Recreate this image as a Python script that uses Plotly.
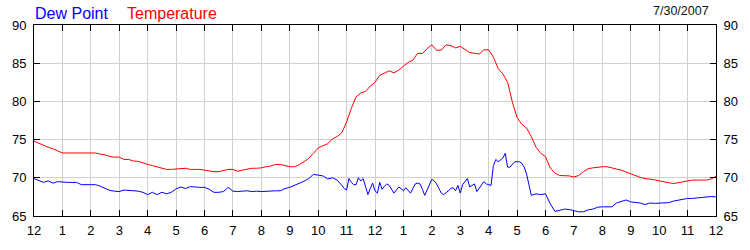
import plotly.graph_objects as go

# Temperature: 10-minute readings for 7/30/2007, 12 AM to 12 AM next day
temperature = [
    74.8, 74.5, 74.2, 74.0, 73.8, 73.5, 73.25, 73.25, 73.25, 73.25,
    73.25, 73.25, 73.25, 73.25, 73.1, 73.0, 72.8, 72.7, 72.7, 72.4,
    72.4, 72.2, 72.15, 71.9, 71.75, 71.6, 71.45, 71.2, 71.1, 71.1,
    71.15, 71.2, 71.25, 71.1, 71.1, 71.1, 71.0, 70.85, 70.8, 70.8,
    70.9, 71.1, 71.1, 70.85, 71.0, 71.15, 71.25, 71.25, 71.3, 71.45,
    71.55, 71.75, 71.75, 71.6, 71.45, 71.45, 71.7, 72.1, 72.55, 73.2,
    73.9, 74.2, 74.45, 75.1, 75.4, 75.9, 77.3, 79.1, 80.6, 81.1,
    81.3, 82.0, 82.5, 83.4, 83.75, 84.0, 83.75, 84.1, 84.6, 85.1,
    85.4, 86.3, 86.25, 86.9, 87.4, 86.7, 86.7, 87.4, 87.3, 87.0,
    87.2, 86.8, 86.4, 86.3, 86.2, 86.75, 86.75, 85.8, 84.3, 83.6,
    82.5, 79.9, 77.9, 77.0, 76.5, 75.4, 74.0, 73.2, 72.75, 71.3,
    70.6, 70.3, 70.3, 70.25, 70.1, 70.3, 70.8, 71.2, 71.3, 71.4,
    71.45, 71.45, 71.25, 71.15, 71.0, 70.75, 70.5, 70.25, 70.05, 69.9,
    69.85, 69.75, 69.6, 69.45, 69.3, 69.25, 69.35, 69.45, 69.55, 69.7,
    69.7, 69.7, 69.7, 69.85, 70.2,
]
temperature_minutes = list(range(0, 1441, 10))

# Dew point: 10-minute readings, 5-minute readings during the noisy afternoon
dew_point_early = [  # 0:00 - 10:30, every 10 min
    69.9, 69.7, 69.4, 69.6, 69.3, 69.5, 69.4, 69.4, 69.4, 69.4,
    69.1, 69.1, 69.1, 69.1, 68.9, 68.6, 68.35, 68.25, 68.2, 68.4,
    68.35, 68.3, 68.25, 68.1, 67.8, 68.1, 67.8, 68.1, 67.9, 68.1,
    68.55, 68.8, 68.6, 68.85, 68.75, 68.75, 68.75, 68.5, 68.1, 68.1,
    68.2, 68.75, 68.25, 68.2, 68.25, 68.3, 68.2, 68.25, 68.2, 68.25,
    68.3, 68.3, 68.3, 68.6, 68.75, 69.0, 69.3, 69.55, 69.9, 70.45,
    70.35, 70.25, 69.85, 70.0,
]
dew_point_midday = [  # 10:40 - 17:30, every 5 min
    69.7, 69.4, 69.0, 68.6, 68.4, 69.9, 69.4, 69.1, 69.1, 70.0,
    69.6, 69.9, 68.8, 67.8, 68.6, 69.3, 68.3, 68.0, 69.4, 68.5,
    68.9, 69.2, 69.0, 68.5, 68.0, 68.4, 68.8, 68.6, 68.3, 68.7,
    68.3, 68.0, 68.6, 69.2, 69.3, 69.2, 68.5, 67.7, 68.4, 69.2,
    69.8, 69.6, 69.2, 68.6, 68.0, 67.8, 68.0, 68.3, 68.6, 68.7,
    68.3, 69.0, 68.0, 69.1, 69.5, 69.9, 68.8, 69.0, 69.2, 68.2,
    68.6, 69.1, 69.5, 69.2, 69.1, 69.0, 71.6, 72.4, 72.1, 72.3,
    72.6, 73.2, 71.4, 71.4, 71.7, 72.1, 72.1, 72.1, 71.9, 71.4,
    70.5, 69.2, 67.7,
]
dew_point_late = [  # 17:40 - 24:00, every 10 min
    67.9, 67.8, 67.9, 66.6, 65.6, 65.8, 65.9, 65.85, 65.65, 65.55,
    65.55, 65.8, 65.9, 66.15, 66.2, 66.2, 66.2, 66.7, 66.95, 67.1,
    66.85, 66.8, 66.7, 66.5, 66.7, 66.65, 66.7, 66.75, 66.75, 66.95,
    67.1, 67.2, 67.3, 67.3, 67.35, 67.4, 67.45, 67.55, 67.5,
]
dew_minutes = (list(range(0, 640, 10)) + list(range(640, 1051, 5))
               + list(range(1060, 1441, 10)))
dew_point = dew_point_early + dew_point_midday + dew_point_late
assert len(dew_point) == len(dew_minutes), (len(dew_point), len(dew_minutes))
assert len(temperature) == len(temperature_minutes)

hour_labels = ["12", "1", "2", "3", "4", "5", "6", "7", "8", "9", "10", "11",
               "12", "1", "2", "3", "4", "5", "6", "7", "8", "9", "10", "11", "12"]
y_ticks = [65, 70, 75, 80, 85, 90]
date_text = "7/30/2007"

FONT = "Arial, 'Liberation Sans', sans-serif"

fig = go.Figure()
fig.add_trace(go.Scatter(x=[m / 60 for m in temperature_minutes], y=temperature,
                         mode="lines", line=dict(color="#ff0000", width=1),
                         name="Temperature", hoverinfo="skip"))
fig.add_trace(go.Scatter(x=[m / 60 for m in dew_minutes], y=dew_point,
                         mode="lines", line=dict(color="#0000ff", width=1),
                         name="Dew Point", hoverinfo="skip", yaxis="y2"))

axis_common = dict(
    showline=True, linecolor="black", linewidth=1,
    ticks="inside", ticklen=6, tickcolor="black", tickwidth=1,
    showgrid=True, gridcolor="#d0d0d0", gridwidth=1,
    zeroline=False,
    tickfont=dict(family=FONT, size=13, color="black"),
)

fig.update_layout(
    width=750, height=250,
    margin=dict(l=31, r=30, t=25, b=25),
    paper_bgcolor="white", plot_bgcolor="white",
    showlegend=False,
    xaxis=dict(range=[0, 24], tickvals=list(range(25)), ticktext=hour_labels,
               mirror="ticks", ticklabelstandoff=2, **axis_common),
    yaxis=dict(range=[65, 90], tickvals=y_ticks, mirror="ticks",
               ticklabelstandoff=4, **axis_common),
    yaxis2=dict(range=[65, 90], tickvals=y_ticks, overlaying="y", side="right",
                matches="y", showgrid=False, showline=True, linecolor="black",
                ticks="inside", ticklen=6, tickcolor="black", zeroline=False,
                ticklabelstandoff=4,
                tickfont=dict(family=FONT, size=13, color="black")),
    annotations=[
        dict(text="Dew Point", xref="paper", yref="paper", x=-0.002, y=1,
             xanchor="left", yanchor="bottom", showarrow=False, yshift=1,
             font=dict(family=FONT, size=16, color="#0000ff")),
        dict(text="Temperature", xref="paper", yref="paper", x=(123 - 31) / 689, y=1,
             xanchor="left", yanchor="bottom", showarrow=False, yshift=1,
             font=dict(family=FONT, size=16, color="#ff0000")),
        dict(text=date_text, xref="paper", yref="paper", x=(715 - 31) / 689, y=1,
             xanchor="right", yanchor="bottom", showarrow=False, yshift=5,
             font=dict(family=FONT, size=12.5, color="#101020")),
    ],
)

fig.write_html("out.html")
